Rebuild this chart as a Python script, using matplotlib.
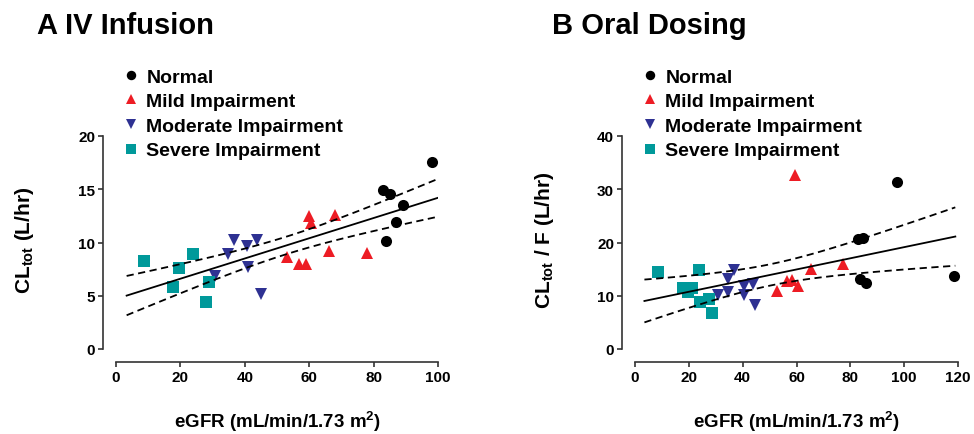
import numpy as np
import matplotlib
matplotlib.use('Agg')
import matplotlib.pyplot as plt
from matplotlib.font_manager import FontProperties

plt.rcParams['font.family'] = ['Liberation Sans', 'DejaVu Sans']
plt.rcParams['font.weight'] = 'bold'
plt.rcParams['mathtext.fontset'] = 'custom'
plt.rcParams['mathtext.rm'] = 'Liberation Sans:bold'
plt.rcParams['mathtext.bf'] = 'Liberation Sans:bold'
plt.rcParams['mathtext.default'] = 'bf'

tick_font = FontProperties(family=['Liberation Sans Narrow', 'Liberation Sans'], weight='bold', size=11)

# --- Panel A: IV infusion (eGFR, CLtot) ---
a_normal_x = [98, 83, 85, 89, 87, 84]
a_normal_y = [17.6, 14.9, 14.6, 13.5, 11.9, 10.1]
a_mild_x = [59.8, 60.6, 68, 53, 56.8, 59.1, 66, 78]
a_mild_y = [12.5, 11.8, 12.6, 8.6, 8.0, 8.0, 9.2, 9.0]
a_mod_x = [36.8, 43.8, 40.8, 34.8, 30.7, 40.9, 45]
a_mod_y = [10.2, 10.2, 9.7, 8.9, 6.9, 7.7, 5.2]
a_sev_x = [8.8, 19.6, 23.8, 17.7, 28.8, 27.8]
a_sev_y = [8.3, 7.6, 8.9, 5.8, 6.3, 4.4]

# --- Panel B: oral dosing (eGFR, CLtot/F) ---
b_normal_x = [97.5, 82.8, 84.6, 83.6, 86.0, 118.6]
b_normal_y = [31.4, 20.6, 20.9, 13.2, 12.4, 13.7]
b_mild_x = [59.6, 52.7, 56.4, 58.5, 60.7, 65.4, 77.4]
b_mild_y = [32.6, 10.9, 12.8, 13.0, 11.9, 15.1, 16.0]
b_mod_x = [36.8, 34.7, 30.7, 34.7, 40.6, 43.8, 40.5, 44.6]
b_mod_y = [14.9, 13.1, 10.2, 10.7, 11.8, 12.3, 10.2, 8.2]
b_sev_x = [8.7, 23.7, 17.7, 21.1, 19.8, 24.2, 27.5, 28.5]
b_sev_y = [14.5, 14.9, 11.5, 11.5, 10.7, 8.8, 9.4, 6.8]

group_names = ['Normal', 'Mild Impairment', 'Moderate Impairment', 'Severe Impairment']
group_colors = ['black', '#ED1C24', '#2E3192', '#00999A']
group_markers = ['o', '^', 'v', 's']

T_CRIT = 2.06  # ~95% two-sided, df about 25-27

W, H = 974, 435
fig = plt.figure(figsize=(W / 100, H / 100), dpi=100)


def panel(left_px, right_px, xmax, xticks, ymax, yticks, groups, fit_range, ylabel, ylabel_x, title, title_x):
    ax = fig.add_axes([left_px / W, (H - 350) / H, (right_px - left_px) / W, (350 - 137) / H])
    for (gx, gy), name, c, m in zip(groups, group_names, group_colors, group_markers):
        ax.plot(gx, gy, linestyle='none', marker=m, color=c, markersize=8,
                markeredgewidth=0, label=name, clip_on=False)

    # linear regression with 95% confidence band
    x = np.concatenate([g[0] for g in groups])
    y = np.concatenate([g[1] for g in groups])
    slope, icept = np.polyfit(x, y, 1)
    resid = y - (slope * x + icept)
    s = np.sqrt(np.sum(resid ** 2) / (len(x) - 2))
    xs = np.linspace(fit_range[0], fit_range[1], 100)
    ys = slope * xs + icept
    half = T_CRIT * s * np.sqrt(1 / len(x) + (xs - x.mean()) ** 2 / np.sum((x - x.mean()) ** 2))
    ax.plot(xs, ys, color='black', lw=1.3)
    ax.plot(xs, ys + half, color='black', lw=1.3, dashes=(4, 2.5))
    ax.plot(xs, ys - half, color='black', lw=1.3, dashes=(4, 2.5))

    ax.set_xlim(0, xmax)
    ax.set_ylim(0, ymax)
    ax.set_xticks(xticks)
    ax.set_yticks(yticks)
    for sp in ['top', 'right']:
        ax.spines[sp].set_visible(False)
    for sp in ['left', 'bottom']:
        ax.spines[sp].set_position(('outward', 9.5))
        ax.spines[sp].set_color('#333333')
        ax.spines[sp].set_linewidth(1.2)
    ax.tick_params(colors='#333333', length=3.5, width=1.2, pad=2)
    for lab in ax.get_xticklabels() + ax.get_yticklabels():
        lab.set_fontproperties(tick_font)
        lab.set_color('black')

    fig.text((left_px + right_px) / 2 / W, (H - 422) / H, 'eGFR (mL/min/1.73 m$^2$)',
             fontsize=13.5, fontweight='bold', ha='center', va='center')
    fig.text(ylabel_x / W, (H - 240) / H, ylabel, fontsize=15, fontweight='bold',
             rotation=90, ha='center', va='center')

    ax.legend(loc='upper left', bbox_to_anchor=((left_px + 8) / W, (H - 69) / H),
              bbox_transform=fig.transFigure, frameon=False, fontsize=14,
              handlelength=0.7, handletextpad=0.45, labelspacing=0.36,
              borderpad=0, borderaxespad=0, markerscale=0.85)
    fig.text(title_x / W, (H - 34) / H, title, fontsize=21, fontweight='bold', ha='left', va='baseline')
    return ax


panel(116, 438, 100, [0, 20, 40, 60, 80, 100], 20, [0, 5, 10, 15, 20],
      [(np.array(a_normal_x), np.array(a_normal_y)), (np.array(a_mild_x), np.array(a_mild_y)),
       (np.array(a_mod_x), np.array(a_mod_y)), (np.array(a_sev_x), np.array(a_sev_y))],
      (3.3, 100), 'CL$_{tot}$ (L/hr)', 24, 'A IV Infusion', 37)

panel(635, 958, 120, [0, 20, 40, 60, 80, 100, 120], 40, [0, 10, 20, 30, 40],
      [(np.array(b_normal_x), np.array(b_normal_y)), (np.array(b_mild_x), np.array(b_mild_y)),
       (np.array(b_mod_x), np.array(b_mod_y)), (np.array(b_sev_x), np.array(b_sev_y))],
      (3.5, 119), 'CL$_{tot}$ / F (L/hr)', 544, 'B Oral Dosing', 552)

fig.savefig('out.png', dpi=100)
